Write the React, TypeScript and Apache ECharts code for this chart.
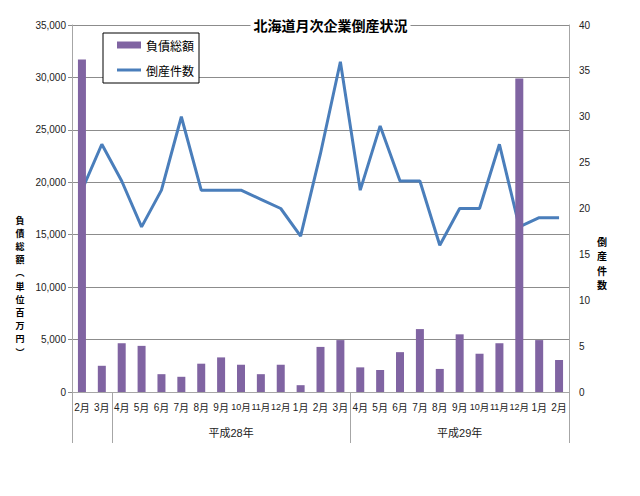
import React, { useEffect, useRef } from "react";
import * as echarts from "echarts";

const categories = [
  "2月", "3月",
  "4月", "5月", "6月", "7月", "8月", "9月", "10月", "11月", "12月", "1月", "2月", "3月",
  "4月", "5月", "6月", "7月", "8月", "9月", "10月", "11月", "12月", "1月", "2月",
];
const debtTotal = [
  31700, 2500,
  4650, 4400, 1700, 1450, 2700, 3300, 2600, 1700, 2600, 650, 4300, 4950,
  2350, 2100, 3800, 6000, 2200, 5500, 3650, 4650, 29900, 4950, 3050,
];
const bankruptcies = [
  22, 27,
  23, 18, 22, 30, 22, 22, 22, 21, 20, 17, 26, 36,
  22, 29, 23, 23, 16, 20, 20, 27, 18, 19, 19,
];
// groups: label, first category index, last category index (inclusive)
const groupLabels = ["", "平成28年", "平成29年"];
const groupStarts = [0, 2, 14];
const groupEnds = [1, 13, 24];

const leftAxisName = "負債総額︵単位百万円︶";
const rightAxisName = "倒産件数";
const titleText = "北海道月次企業倒産状況";

const NUM_FONT = "'Liberation Sans', 'Noto Sans CJK JP', sans-serif";
const CJK_FONT = "'Noto Sans CJK JP', sans-serif";

export default function App() {
  const ref = useRef<HTMLDivElement>(null);

  useEffect(() => {
    document.body.style.margin = "0";
    if (!ref.current) return;
    const chart = echarts.init(ref.current, undefined, { renderer: "svg" });
    const gridColor = "#8c8c8c";
    const axisColor = "#a6a6a6";
    chart.setOption({
      animation: false,
      backgroundColor: "#ffffff",
      grid: { left: 72, right: 71, top: 25, bottom: 104, containLabel: false },
      legend: {
        orient: "vertical",
        left: 103,
        top: 33,
        padding: [6, 5, 7, 14],
        itemGap: 13,
        itemWidth: 24,
        itemHeight: 7,
        symbolKeepAspect: true,
        borderColor: "#000",
        borderWidth: 1,
        backgroundColor: "#fff",
        textStyle: { fontSize: 12, color: "#000", fontFamily: CJK_FONT },
        data: [
          { name: "負債総額", icon: "rect" },
          { name: "倒産件数", icon: "path://M0,0L24,0L24,3L0,3Z" },
        ],
      },
      xAxis: {
        type: "category",
        data: categories,
        axisLine: { show: true, lineStyle: { color: axisColor, width: 1 } },
        axisTick: { show: false },
        axisLabel: {
          interval: 0,
          margin: 10,
          color: "#222",
          formatter: (v: string) => {
            const num = v.replace("月", "");
            return num.length > 1 ? `{d2|${num}}{m2|月}` : `{d|${num}}{m|月}`;
          },
          rich: {
            d: { fontSize: 10, fontFamily: NUM_FONT, color: "#222" },
            m: { fontSize: 10, fontFamily: CJK_FONT, color: "#222" },
            d2: { fontSize: 9, fontFamily: NUM_FONT, color: "#222" },
            m2: { fontSize: 9.5, fontFamily: CJK_FONT, color: "#222" },
          },
        },
      },
      yAxis: [
        {
          type: "value",
          min: 0,
          max: 35000,
          interval: 5000,
          axisLine: { show: true, lineStyle: { color: axisColor } },
          axisTick: { show: true, length: 4, lineStyle: { color: gridColor } },
          splitLine: { show: true, lineStyle: { color: gridColor, width: 1 } },
          axisLabel: {
            margin: 6,
            fontSize: 10,
            color: "#222",
            fontFamily: NUM_FONT,
            formatter: (v: number) => v.toLocaleString("en-US"),
          },
        },
        {
          type: "value",
          min: 0,
          max: 40,
          interval: 5,
          position: "right",
          axisLine: { show: true, lineStyle: { color: axisColor } },
          axisTick: { show: false },
          splitLine: { show: false },
          axisLabel: {
            margin: 10,
            fontSize: 10,
            color: "#222",
            fontFamily: NUM_FONT,
          },
        },
      ],
      series: [
        {
          name: "負債総額",
          type: "bar",
          yAxisIndex: 0,
          data: debtTotal,
          barWidth: 8,
          z: 3,
          itemStyle: { color: "#8064A2" },
        },
        {
          name: "倒産件数",
          type: "line",
          yAxisIndex: 1,
          data: bankruptcies,
          symbol: "none",
          z: 2,
          lineStyle: { color: "#4A7EBB", width: 3 },
          itemStyle: { color: "#4A7EBB" },
        },
      ],
    });

    // Build group separators and group labels from the axis scale.
    const c0 = chart.convertToPixel({ xAxisIndex: 0 }, 0) as number;
    const c1 = chart.convertToPixel({ xAxisIndex: 0 }, 1) as number;
    const bw = c1 - c0;
    const boundary = (b: number) => c0 + (b - 0.5) * bw;
    const yBase = chart.convertToPixel({ yAxisIndex: 0 }, 0) as number;
    const yTop = chart.convertToPixel({ yAxisIndex: 0 }, 35000) as number;

    const graphics: any[] = [];
    const seps = new Set<number>();
    groupStarts.forEach((s, i) => {
      seps.add(s);
      seps.add(groupEnds[i] + 1);
    });
    seps.forEach((b) => {
      const x = Math.round(boundary(b)) + 0.5;
      graphics.push({
        type: "line",
        z: 50,
        shape: { x1: x, y1: yBase, x2: x, y2: yBase + 51 },
        style: { stroke: axisColor, lineWidth: 1 },
      });
    });
    groupLabels.forEach((label, i) => {
      if (!label) return;
      const mid = (boundary(groupStarts[i]) + boundary(groupEnds[i] + 1)) / 2;
      graphics.push({
        type: "text",
        z: 50,
        x: mid,
        y: yBase + 41,
        style: {
          text: label,
          align: "center",
          verticalAlign: "middle",
          fontSize: 11,
          fill: "#222",
          fontFamily: NUM_FONT,
        },
      });
    });
    const xMid = (boundary(0) + boundary(categories.length)) / 2;
    graphics.push({
      type: "text",
      z: 100,
      x: xMid + 10,
      y: yTop,
      style: {
        text: titleText,
        align: "center",
        verticalAlign: "middle",
        fontSize: 14,
        fontWeight: "bold",
        fill: "#000",
        fontFamily: CJK_FONT,
        backgroundColor: "#fff",
        padding: [1, 3, 1, 3],
      },
    });
    graphics.push({
      type: "text",
      z: 100,
      x: 20,
      y: 286,
      style: {
        text: leftAxisName.split("").join("\n"),
        align: "center",
        verticalAlign: "middle",
        fontSize: 9,
        lineHeight: 13.2,
        fontWeight: "bold",
        fill: "#000",
        fontFamily: CJK_FONT,
      },
    });
    graphics.push({
      type: "text",
      z: 100,
      x: 602,
      y: 263,
      style: {
        text: rightAxisName.split("").join("\n"),
        align: "center",
        verticalAlign: "middle",
        fontSize: 10,
        lineHeight: 14.6,
        fontWeight: "bold",
        fill: "#000",
        fontFamily: CJK_FONT,
      },
    });
    chart.setOption({ graphic: graphics });

    return () => {
      chart.dispose();
    };
  }, []);

  return <div ref={ref} style={{ width: 640, height: 496 }} />;
}
